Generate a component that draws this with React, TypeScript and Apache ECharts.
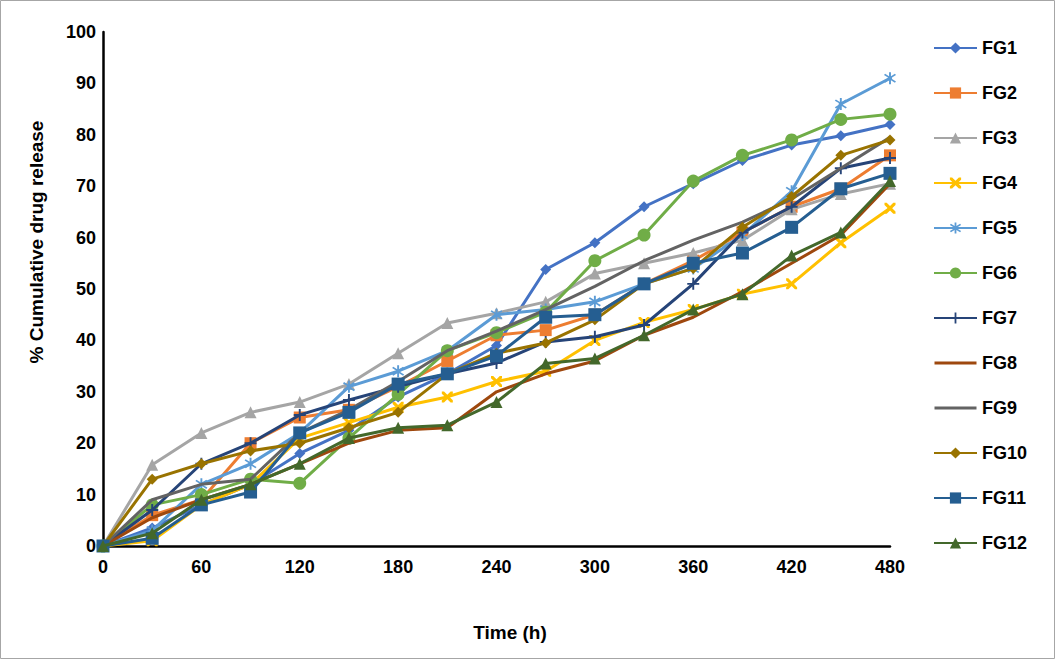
import React, { useEffect, useRef } from "react";
import * as echarts from "echarts";

const times = [0, 30, 60, 90, 120, 150, 180, 210, 240, 270, 300, 330, 360, 390, 420, 450, 480];
const seriesNames = ["FG1", "FG2", "FG3", "FG4", "FG5", "FG6", "FG7", "FG8", "FG9", "FG10", "FG11", "FG12"];
const xTitle = "Time (h)";
const yTitle = "% Cumulative drug release";

const fg1 = [0, 3.5, 8, 12, 18, 22.5, 29, 33.5, 39, 53.8, 59, 66, 70.5, 75, 78, 79.8, 82];
const fg2 = [0, 6, 9, 20, 25, 26.5, 31, 36, 41, 42, 45, 51, 55.5, 61, 66, 69.5, 76];
const fg3 = [0, 15.8, 22, 26, 28, 31.5, 37.5, 43.4, 45.3, 47.5, 53, 55, 57, 59.5, 65.5, 68.5, 70.5];
const fg4 = [0, 1, 8, 12, 21, 24, 27, 29, 32, 34, 40, 43.5, 46, 49, 51, 59, 65.7];
const fg5 = [0, 3, 12, 16, 22, 31, 34, 38, 45, 46, 47.5, 51, 54, 60.5, 69, 86, 91];
const fg6 = [0, 8, 10, 13, 12.2, 21, 29.5, 38, 41.5, 45.5, 55.5, 60.5, 71, 76, 79, 83, 84];
const fg7 = [0, 7, 16, 20, 25.5, 28.4, 31, 33.5, 35.6, 39.7, 40.7, 43, 51, 61, 66, 73.5, 75.5];
const fg8 = [0, 5.5, 9, 12, 16, 20, 22.5, 23, 30, 33.5, 36, 41, 44.5, 49.5, 55, 60.5, 70.5];
const fg9 = [0, 9, 12, 13, 22, 26.5, 32, 38, 41.8, 46, 50.5, 55.5, 59.5, 63, 67.5, 73.5, 79.5];
const fg10 = [0, 13, 16, 18.5, 20, 23, 26, 33.5, 37.5, 39.5, 44, 51, 54, 62, 68, 76, 79];
const fg11 = [0, 1.5, 8, 10.5, 22, 26, 31.5, 33.5, 37, 44.5, 45, 51, 55, 57, 62, 69.5, 72.5];
const fg12 = [0, 2.5, 9, 12, 16, 21, 23, 23.5, 28, 35.5, 36.5, 41, 46, 49, 56.5, 61, 71];

const allValues = [fg1, fg2, fg3, fg4, fg5, fg6, fg7, fg8, fg9, fg10, fg11, fg12];
const colors = ["#4472C4", "#ED7D31", "#A5A5A5", "#FFC000", "#5B9BD5", "#70AD47", "#264478", "#9E480E", "#636363", "#997300", "#255E91", "#43682B"];

const X_PATH = "path://M0,0 L2,0 L5,3 L8,0 L10,0 L10,2 L7,5 L10,8 L10,10 L8,10 L5,7 L2,10 L0,10 L0,8 L3,5 L0,2 Z";
const PLUS_PATH = "path://M4.2,0 H5.8 V4.2 H10 V5.8 H5.8 V10 H4.2 V5.8 H0 V4.2 H4.2 Z";
const STAR_PATH = "path://M4.3,0 H5.7 V3.3 L8.6,1.2 L9.4,2.3 L6.5,4.3 L6.5,5.7 L9.4,7.7 L8.6,8.8 L5.7,6.7 V10 H4.3 V6.7 L1.4,8.8 L0.6,7.7 L3.5,5.7 L3.5,4.3 L0.6,2.3 L1.4,1.2 L4.3,3.3 Z";
const LINE_ICON = "path://M0,0 L0.05,0 L0.05,0.05 Z M0,5.6 H42 V8.4 H0 Z M0,14 L0.05,14 L0.05,13.95 Z";

const symbols = ["diamond", "rect", "triangle", X_PATH, STAR_PATH, "circle", PLUS_PATH, "none", "none", "diamond", "rect", "triangle"];
const symbolSizes = [11, 12, 12, 11, 12, 13, 12, 0, 0, 11, 13, 12];

const FONT = "Arial, 'Liberation Sans', sans-serif";

export default function App() {
  const ref = useRef<HTMLDivElement>(null);
  useEffect(() => {
    if (!ref.current) return;
    const chart = echarts.init(ref.current, undefined, { renderer: "svg" });
    const series = seriesNames.map((name, i) => ({
      name,
      type: "line",
      data: times.map((t, j) => [t, allValues[i][j]]),
      symbol: symbols[i],
      symbolSize: symbolSizes[i],
      showSymbol: symbols[i] !== "none",
      lineStyle: { color: colors[i], width: 3 },
      itemStyle: { color: colors[i] },
      z: 2 + i,
    }));
    chart.setOption({
      animation: false,
      backgroundColor: "#ffffff",
      grid: { left: 103, top: 32, right: 165, bottom: 113, containLabel: false },
      graphic: [
        {
          type: "rect",
          shape: { x: 0.5, y: 0.5, width: 1054, height: 658 },
          style: { fill: "none", stroke: "#a6a6a6", lineWidth: 1 },
          silent: true,
        },
        {
          type: "text",
          x: 36,
          y: 242,
          rotation: Math.PI / 2,
          style: {
            text: yTitle,
            fontFamily: FONT,
            fontWeight: "bold",
            fontSize: 19,
            fill: "#000",
            align: "center",
            verticalAlign: "middle",
          },
        },
        {
          type: "text",
          x: 510,
          y: 632,
          style: {
            text: xTitle,
            fontFamily: FONT,
            fontWeight: "bold",
            fontSize: 19,
            fill: "#000",
            align: "center",
            verticalAlign: "middle",
          },
        },
      ],
      xAxis: {
        type: "value",
        min: 0,
        max: 480,
        interval: 60,
        axisLine: { show: true, lineStyle: { color: "#000", width: 2.5 } },
        axisTick: { show: false },
        splitLine: { show: false },
        axisLabel: { fontFamily: FONT, fontWeight: "bold", fontSize: 18, color: "#000", margin: 12 },
      },
      yAxis: {
        type: "value",
        min: 0,
        max: 100,
        interval: 10,
        axisLine: { show: true, lineStyle: { color: "#000", width: 2.5 } },
        axisTick: { show: false },
        splitLine: { show: false },
        axisLabel: { fontFamily: FONT, fontWeight: "bold", fontSize: 18, color: "#000", margin: 7 },
      },
      legend: {
        orient: "vertical",
        left: 933,
        top: 39,
        padding: 0,
        itemWidth: 43,
        itemHeight: 14,
        itemGap: 27,
        textStyle: { fontFamily: FONT, fontWeight: "bold", fontSize: 18, color: "#000" },
        data: seriesNames.map((n, i) =>
          symbols[i] === "none" ? { name: n, icon: LINE_ICON } : { name: n }
        ),
      },
      series,
    });
    return () => chart.dispose();
  }, []);
  return (
    <div
      ref={ref}
      style={{ position: "absolute", left: 0, top: 0, width: 1055, height: 659 }}
    />
  );
}
